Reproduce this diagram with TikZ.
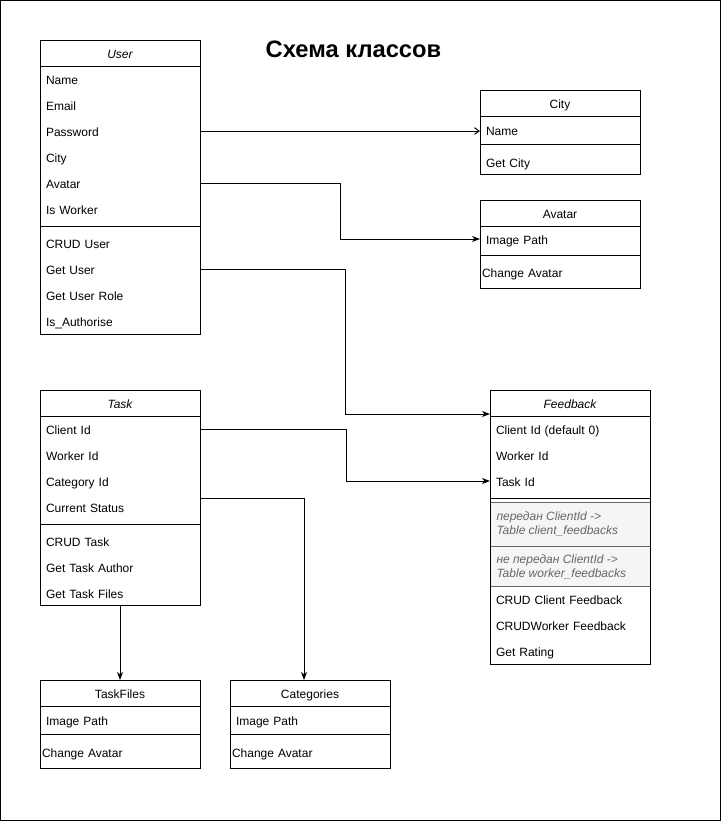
\documentclass[tikz,border=0pt]{standalone}
\usepackage{fontspec}
\setmainfont{Liberation Sans}
\usetikzlibrary{arrows.meta}
\definecolor{notegray}{HTML}{666666}
\definecolor{notefill}{HTML}{F5F5F5}
\begin{document}
\begin{tikzpicture}[x=0.75pt,y=-0.75pt,line width=0.75pt,
  box/.style={draw,rectangle,inner sep=0,outer sep=0,minimum width=120pt,anchor=north west},
  row/.style={rectangle,inner ysep=0,inner xsep=4.5pt,outer sep=0,minimum height=19.5pt,
    text width=111pt,align=left,text height=8.5pt,text depth=0.5pt,
    font=\fontsize{9pt}{11pt}\selectfont},
  rowtight/.style={row,inner xsep=1.5pt,text width=117pt},
  head/.style={row,align=center},
  ihead/.style={head,font=\fontsize{9pt}{11pt}\selectfont\itshape},
  notebox/.style={draw=notegray,fill=notefill,rectangle,inner sep=0,outer sep=0,
    minimum width=120pt,anchor=north west},
  notetext/.style={inner sep=0,anchor=west,align=left,text=notegray,
    font=\fontsize{9pt}{10.5pt}\selectfont\itshape},
  conn/.style={draw,line width=0.75pt,-{Stealth[length=6pt,width=4.5pt,inset=1.8pt]}},
  openconn/.style={draw,line width=0.75pt,-{Straight Barb[length=3.5pt,width=5pt]}},
  title/.style={inner sep=0,anchor=base,font=\fontsize{17.8pt}{20pt}\selectfont\bfseries}
]
\useasboundingbox (0,0) rectangle (722,822);
\draw (0.5,0.5) rectangle (720.5,820.5);

\node[title] (ttl) at (353.5,57.7) {Схема классов};

% ---------- User ----------
\node[box,minimum height=220.5pt] (user) at (40,40) {};
\node[ihead,anchor=north west] (uHead) at (40,40) {User};
\draw (40,66) -- (200,66);
\node[row,anchor=west] (uName) at (40,79) {Name};
\node[row,anchor=west] (uEmail) at (40,105) {Email};
\node[row,anchor=west] (uPassword) at (40,131) {Password};
\node[row,anchor=west] (uCity) at (40,157) {City};
\node[row,anchor=west] (uAvatar) at (40,183) {Avatar};
\node[row,anchor=west] (uWorker) at (40,209) {Is Worker};
\draw (40,226) -- (200,226);
\node[row,anchor=west] (uCrud) at (40,243) {CRUD User};
\node[row,anchor=west] (uGetUser) at (40,269) {Get User};
\node[row,anchor=west] (uRole) at (40,295) {Get User Role};
\node[row,anchor=west] (uAuth) at (40,321) {Is\_Authorise};

% ---------- City ----------
\node[box,minimum height=63pt] (city) at (480,90) {};
\node[head,anchor=north west] (cHead) at (480,90) {City};
\draw (480,116) -- (640,116);
\node[row,anchor=west] (cName) at (480,130) {Name};
\draw (480,144) -- (640,144);
\node[row,anchor=west] (cGet) at (480,162) {Get City};

% ---------- Avatar ----------
\node[box,minimum height=66pt] (avatar) at (480,200) {};
\node[head,anchor=north west] (aHead) at (480,200) {Avatar};
\draw (480,226) -- (640,226);
\node[row,anchor=west] (aImage) at (480,239) {Image Path};
\draw (480,255) -- (640,255);
\node[rowtight,anchor=west] (aChange) at (480,272) {Change Avatar};

% ---------- Task ----------
\node[box,minimum height=161.25pt] (task) at (40,390) {};
\node[ihead,anchor=north west] (tHead) at (40,390) {Task};
\draw (40,416) -- (200,416);
\node[row,anchor=west] (tClient) at (40,429) {Client Id};
\node[row,anchor=west] (tWorker) at (40,455) {Worker Id};
\node[row,anchor=west] (tCat) at (40,481) {Category Id};
\node[row,anchor=west] (tStatus) at (40,507) {Current Status};
\draw (40,524) -- (200,524);
\node[row,anchor=west] (tCrud) at (40,541) {CRUD Task};
\node[row,anchor=west] (tAuthor) at (40,567) {Get Task Author};
\node[row,anchor=west] (tFiles) at (40,593) {Get Task Files};

% ---------- Feedback ----------
\node[box,minimum height=205.5pt] (fb) at (490,390) {};
\node[ihead,anchor=north west] (fHead) at (490,390) {Feedback};
\draw (490,416) -- (650,416);
\node[row,anchor=west] (fClient) at (490,429) {Client Id (default 0)};
\node[row,anchor=west] (fWorker) at (490,455) {Worker Id};
\node[row,anchor=west] (fTask) at (490,481) {Task Id};
\draw (490,498) -- (650,498);
\node[notebox,minimum height=33pt] (fNote1) at (490,502) {};
\node[notetext] (fNote1t) at (496,524) {передан ClientId ->\\Table client\_feedbacks};
\node[notebox,minimum height=30pt] (fNote2) at (490,546) {};
\node[notetext] (fNote2t) at (496,566.5) {не передан ClientId ->\\Table worker\_feedbacks};
\node[row,anchor=west] (fCrudC) at (490,599) {CRUD Client Feedback};
\node[row,anchor=west] (fCrudW) at (490,625) {CRUDWorker Feedback};
\node[row,anchor=west] (fRating) at (490,651) {Get Rating};
\draw (fb.north west) rectangle (fb.south east);

% ---------- TaskFiles ----------
\node[box,minimum height=66pt] (tf) at (40,680) {};
\node[head,anchor=north west] (tfHead) at (40,680) {TaskFiles};
\draw (40,706) -- (200,706);
\node[row,anchor=west] (tfImage) at (40,720) {Image Path};
\draw (40,734) -- (200,734);
\node[rowtight,anchor=west] (tfChange) at (40,752) {Change Avatar};

% ---------- Categories ----------
\node[box,minimum height=66pt] (cat) at (230,680) {};
\node[head,anchor=north west] (catHead) at (230,680) {Categories};
\draw (230,706) -- (390,706);
\node[row,anchor=west] (catImage) at (230,720) {Image Path};
\draw (230,734) -- (390,734);
\node[rowtight,anchor=west] (catChange) at (230,752) {Change Avatar};

% ---------- Connectors ----------
\draw[openconn] (uPassword.east) -- (uPassword.east -| cName.west);
\draw[conn] (uAvatar.east) -- ++(140,0) |- (aImage.west);
\draw[conn] (uGetUser.east) -- ++(145,0) |- ([yshift=1.5pt]fHead.south west);
\draw[conn] (tClient.east) -- ++(146,0) |- (fTask.west);
\draw[conn] ([yshift=6.75pt]tStatus.east) -| ([xshift=-4.5pt]catHead.north);
\draw[conn] (task.south) -- (tf.north);
\end{tikzpicture}
\end{document}
